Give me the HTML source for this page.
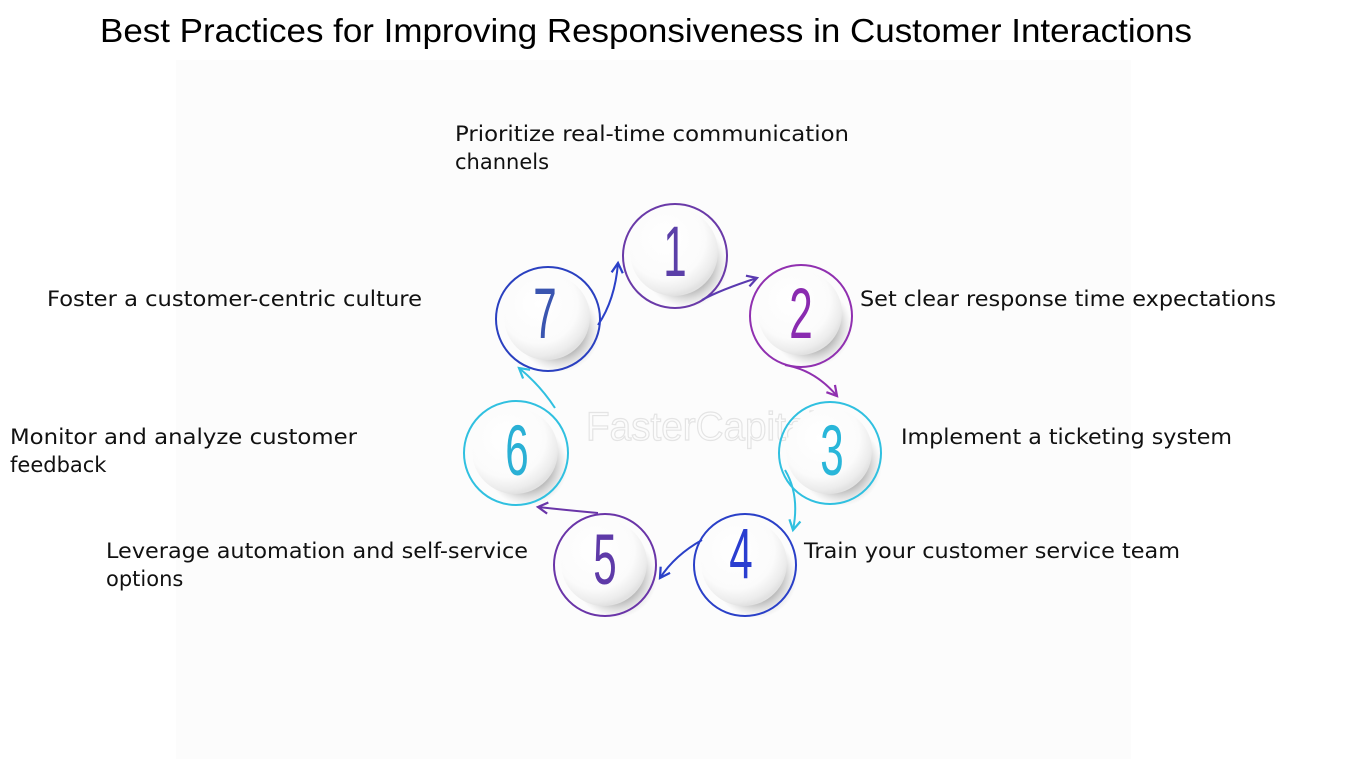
<!DOCTYPE html>
<html><head><meta charset="utf-8"><style>
html,body{margin:0;padding:0;background:#fff;}
svg{display:block;}
text{font-family:"Liberation Sans",sans-serif;}
.lb{font-family:"DejaVu Sans","Liberation Sans",sans-serif;font-size:21px;fill:#111;}
.num{font-family:"Liberation Sans",sans-serif;font-size:62px;text-anchor:middle;}
</style></head><body>
<svg width="1350" height="759" viewBox="0 0 1350 759" xmlns="http://www.w3.org/2000/svg">
<defs>
<radialGradient id="ball" cx="0.4" cy="0.35" r="0.65">
<stop offset="0" stop-color="#ffffff"/><stop offset="0.7" stop-color="#fbfbfb"/><stop offset="0.92" stop-color="#ececec"/><stop offset="1" stop-color="#e2e2e2"/>
</radialGradient>
<radialGradient id="sh" cx="0.5" cy="0.5" r="0.5">
<stop offset="0.6" stop-color="#a8a8a8" stop-opacity="0.8"/><stop offset="1" stop-color="#ccc" stop-opacity="0"/>
</radialGradient>
<marker id="a" viewBox="0 0 10 10" refX="8" refY="5" markerWidth="7" markerHeight="7" orient="auto"><path d="M1,1 L8,5 L1,9" fill="none" stroke="context-stroke" stroke-width="1.6"/></marker>
</defs>
<rect x="176" y="60" width="955" height="699" fill="#fcfcfc"/>
<text x="100" y="42" font-size="33" textLength="1092" lengthAdjust="spacingAndGlyphs" fill="#000">Best Practices for Improving Responsiveness in Customer Interactions</text>

<text x="586" y="440" font-size="40" textLength="230" lengthAdjust="spacingAndGlyphs" fill="none" stroke="#e4e4e4" stroke-width="1.2">FasterCapital</text>

<g>
<g><circle cx="686" cy="266" r="42" fill="url(#sh)"/><circle cx="674" cy="252" r="44" fill="url(#ball)"/><circle cx="675" cy="256" r="52" fill="none" stroke="#6a3aa8" stroke-width="2"/><text class="num" transform="translate(675,276) scale(0.68,1.15)" fill="#5b3fa8">1</text></g>
<g><circle cx="812" cy="327" r="40" fill="url(#sh)"/><circle cx="800" cy="313" r="42" fill="url(#ball)"/><circle cx="801" cy="316" r="51" fill="none" stroke="#9030b0" stroke-width="2"/><text class="num" transform="translate(801,338) scale(0.68,1.15)" fill="#8a2bb0">2</text></g>
<g><circle cx="841" cy="465" r="41" fill="url(#sh)"/><circle cx="829" cy="451" r="43" fill="url(#ball)"/><circle cx="830" cy="453" r="51" fill="none" stroke="#30c0e0" stroke-width="2"/><text class="num" transform="translate(832,475) scale(0.68,1.15)" fill="#29b6d9">3</text></g>
<g><circle cx="756" cy="577" r="41" fill="url(#sh)"/><circle cx="744" cy="563" r="43" fill="url(#ball)"/><circle cx="745" cy="565" r="51" fill="none" stroke="#2a40c8" stroke-width="2"/><text class="num" transform="translate(741,578) scale(0.68,1.15)" fill="#2a3ed0">4</text></g>
<g><circle cx="616" cy="577" r="41" fill="url(#sh)"/><circle cx="604" cy="563" r="43" fill="url(#ball)"/><circle cx="605" cy="565" r="51" fill="none" stroke="#6a35a8" stroke-width="2"/><text class="num" transform="translate(605,584) scale(0.68,1.15)" fill="#5e3aa8">5</text></g>
<g><circle cx="527" cy="465" r="41" fill="url(#sh)"/><circle cx="515" cy="451" r="43" fill="url(#ball)"/><circle cx="516" cy="453" r="52" fill="none" stroke="#30c0e0" stroke-width="2"/><text class="num" transform="translate(517,475) scale(0.68,1.15)" fill="#2ab0d5">6</text></g>
<g><circle cx="559" cy="331" r="41" fill="url(#sh)"/><circle cx="547" cy="317" r="43" fill="url(#ball)"/><circle cx="548" cy="319" r="52" fill="none" stroke="#2a40c0" stroke-width="2"/><text class="num" transform="translate(545,338) scale(0.68,1.15)" fill="#3a55b0">7</text></g>
</g>

<g fill="none" stroke-width="2">
<path d="M702,300 Q720,290 757,278" stroke="#5a3ab0" marker-end="url(#a)"/>
<path d="M785,365 Q815,370 837,396" stroke="#9030b0" marker-end="url(#a)"/>
<path d="M785,470 Q800,495 793,530" stroke="#30c0e0" marker-end="url(#a)"/>
<path d="M702,540 Q675,555 660,578" stroke="#2a40c8" marker-end="url(#a)"/>
<path d="M598,513 Q565,510 538,507" stroke="#6a35a8" marker-end="url(#a)"/>
<path d="M555,408 Q540,385 519,368" stroke="#30c0e0" marker-end="url(#a)"/>
<path d="M598,325 Q615,300 618,263" stroke="#2a40c8" marker-end="url(#a)"/>
</g>

<text class="lb" x="455" y="141" textLength="394" lengthAdjust="spacingAndGlyphs">Prioritize real-time communication</text>
<text class="lb" x="455" y="169">channels</text>
<text class="lb" x="860" y="306" textLength="416" lengthAdjust="spacingAndGlyphs">Set clear response time expectations</text>
<text class="lb" x="47" y="306" textLength="375" lengthAdjust="spacingAndGlyphs">Foster a customer-centric culture</text>
<text class="lb" x="901" y="444" textLength="331" lengthAdjust="spacingAndGlyphs">Implement a ticketing system</text>
<text class="lb" x="10" y="444" textLength="347" lengthAdjust="spacingAndGlyphs">Monitor and analyze customer</text>
<text class="lb" x="10" y="472">feedback</text>
<text class="lb" x="804" y="558" textLength="376" lengthAdjust="spacingAndGlyphs">Train your customer service team</text>
<text class="lb" x="106" y="558" textLength="422" lengthAdjust="spacingAndGlyphs">Leverage automation and self-service</text>
<text class="lb" x="106" y="586">options</text>
</svg>
</body></html>
